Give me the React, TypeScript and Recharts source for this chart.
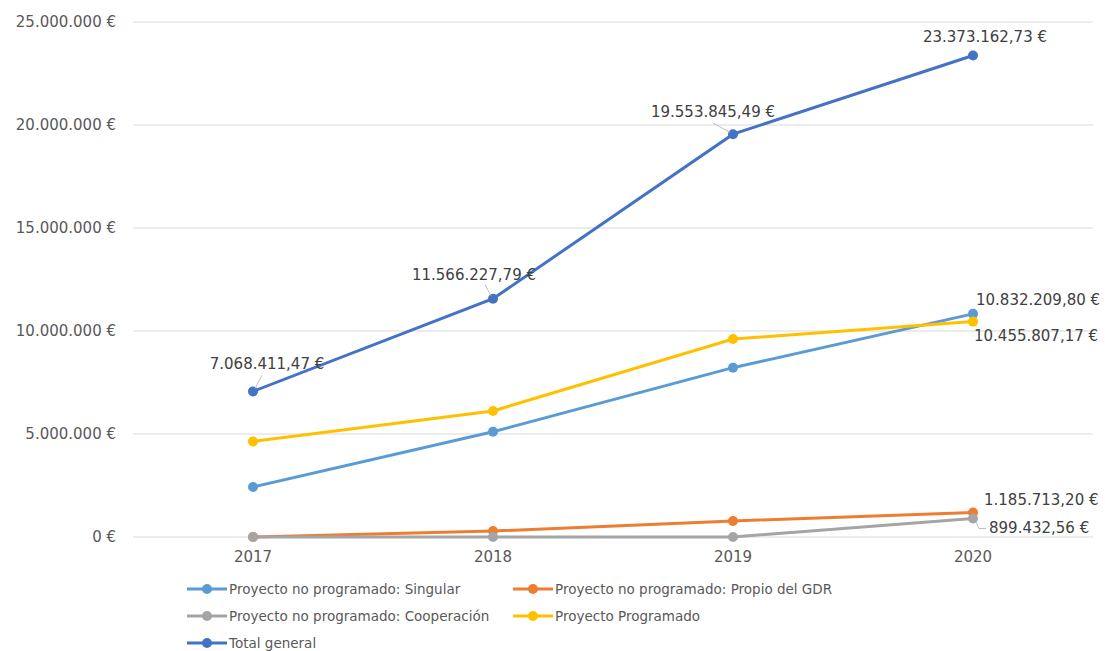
import React from "react";
import { LineChart, Line, XAxis, YAxis, CartesianGrid } from "recharts";

const years = ["2017", "2018", "2019", "2020"];
const singular = [2430000, 5110000, 8220000, 10832209.8];
const propioGdr = [0, 290000, 780000, 1185713.2];
const cooperacion = [0, 0, 0, 899432.56];
const programado = [4640000, 6120000, 9610000, 10455807.17];
const totalGeneral = [7068411.47, 11566227.79, 19553845.49, 23373162.73];
const yTicks = [0, 5000000, 10000000, 15000000, 20000000, 25000000];

const FONT = "'DejaVu Sans', sans-serif";

const data = years.map((year, i) => ({
  year,
  singular: singular[i],
  propioGdr: propioGdr[i],
  cooperacion: cooperacion[i],
  programado: programado[i],
  total: totalGeneral[i],
}));

// spanish style number: 1.234.567,89 €
function fmtEuro(v: number, decimals: number) {
  const fixed = v.toFixed(decimals);
  const [int, dec] = fixed.split(".");
  const grouped = int.replace(/\B(?=(\d{3})+(?!\d))/g, ".");
  return (dec ? `${grouped},${dec}` : grouped) + " €";
}

type LabelCfg = {
  index: number;
  dx: number;
  dy: number;
  anchor: "start" | "middle" | "end";
  leader?: [number, number][];
};

function makeLabel(cfgs: LabelCfg[]) {
  return (props: any) => {
    const { x, y, index, value } = props;
    const cfg = cfgs.find((c) => c.index === index);
    if (!cfg || x == null || y == null) return null;
    return (
      <g key={`lbl-${index}`}>
        {cfg.leader && (
          <polyline
            points={cfg.leader.map(([a, b]) => `${x + a},${y + b}`).join(" ")}
            fill="none"
            stroke="#bfbfbf"
            strokeWidth={1}
          />
        )}
        <text
          x={x + cfg.dx}
          y={y + cfg.dy}
          textAnchor={cfg.anchor}
          dominantBaseline="central"
          fontSize={15}
          fontFamily={FONT}
          fill="#404040"
        >
          {fmtEuro(value, 2)}
        </text>
      </g>
    );
  };
}

const series = [
  {
    key: "singular",
    name: "Proyecto no programado: Singular",
    color: "#5b9bd5",
    labels: [{ index: 3, dx: 3, dy: -14, anchor: "start" as const }],
  },
  {
    key: "propioGdr",
    name: "Proyecto no programado: Propio del GDR",
    color: "#ed7d31",
    labels: [{ index: 3, dx: 11, dy: -13, anchor: "start" as const }],
  },
  {
    key: "cooperacion",
    name: "Proyecto no programado: Cooperación",
    color: "#a5a5a5",
    labels: [
      {
        index: 3,
        dx: 16,
        dy: 10,
        anchor: "start" as const,
        leader: [
          [3, 4],
          [6, 10],
          [13, 10],
        ] as [number, number][],
      },
    ],
  },
  {
    key: "programado",
    name: "Proyecto Programado",
    color: "#ffc000",
    labels: [{ index: 3, dx: 1, dy: 14, anchor: "start" as const }],
  },
  {
    key: "total",
    name: "Total general",
    color: "#4472c4",
    labels: [
      { index: 0, dx: 14, dy: -27, anchor: "middle" as const, leader: [[2, -3], [9, -16]] as [number, number][] },
      { index: 1, dx: -19, dy: -24, anchor: "middle" as const, leader: [[-2, -3], [-8, -14]] as [number, number][] },
      { index: 2, dx: -20, dy: -22, anchor: "middle" as const, leader: [[-3, -2], [-20, -11]] as [number, number][] },
      { index: 3, dx: 12, dy: -19, anchor: "middle" as const },
    ],
  },
];

function LegendIcon({ color }: { color: string }) {
  return (
    <svg width={40} height={12} style={{ display: "block", marginRight: 2, flexShrink: 0 }}>
      <line x1={0} y1={6} x2={40} y2={6} stroke={color} strokeWidth={3} />
      <circle cx={20} cy={6} r={5} fill={color} />
    </svg>
  );
}

export default function App() {
  return (
    <div style={{ position: "absolute", left: 0, top: 0, width: 1105, height: 651, background: "#fff" }}>
      <LineChart
        width={1105}
        height={651}
        data={data}
        margin={{ top: 22, right: 12, left: 8, bottom: 84 }}
        style={{ fontFamily: FONT }}
      >
        <CartesianGrid vertical={false} stroke="#d9d9d9" />
        <XAxis
          dataKey="year"
          axisLine={false}
          tickLine={false}
          tickSize={0}
          tickMargin={14}
          padding={{ left: 120, right: 120 }}
          tick={{ fontSize: 15, fill: "#595959", fontFamily: FONT }}
          height={30}
        />
        <YAxis
          width={125}
          domain={[0, 25000000]}
          ticks={yTicks}
          axisLine={false}
          tickLine={false}
          tickSize={0}
          tickMargin={17}
          tickFormatter={(v: number) => fmtEuro(v, 0)}
          tick={{ fontSize: 15, fill: "#595959", fontFamily: FONT }}
        />
        {series.map((s) => (
          <Line
            key={s.key}
            type="linear"
            dataKey={s.key}
            name={s.name}
            stroke={s.color}
            strokeWidth={3}
            dot={{ r: 5, fill: s.color, stroke: s.color, strokeWidth: 0 }}
            label={makeLabel(s.labels)}
            isAnimationActive={false}
          />
        ))}
      </LineChart>
      <div
        style={{
          position: "absolute",
          left: 187,
          top: 575,
          display: "grid",
          gridTemplateColumns: "326px 360px",
          gridAutoRows: "27px",
          fontFamily: FONT,
          fontSize: 13.5,
          color: "#595959",
        }}
      >
        {series.map((s) => (
          <div key={s.key} style={{ display: "flex", alignItems: "center", whiteSpace: "nowrap" }}>
            <LegendIcon color={s.color} />
            <span>{s.name}</span>
          </div>
        ))}
      </div>
    </div>
  );
}
